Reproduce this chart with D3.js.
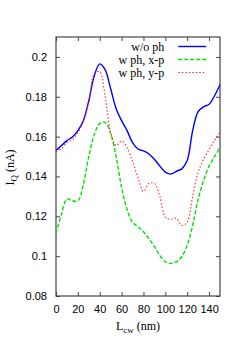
<!DOCTYPE html>
<html>
<head>
<meta charset="utf-8">
<script src="https://cdn.jsdelivr.net/npm/d3@7"></script>
<style>
  html, body { margin: 0; padding: 0; background: #fff; }
  svg { display: block; }
  .tick text { font-family: "Liberation Sans", Arial, sans-serif; font-size: 11px; fill: #000; }
  .lbl { font-family: "Liberation Serif", "Times New Roman", serif; font-size: 12px; fill: #000; }
</style>
</head>
<body>
<div class="svg-container"></div>
<script>
// data (L_cw in nm, I_Q in nA)
const xs = [0, 5, 10, 15, 20, 25, 30, 35, 40, 45, 50, 55, 60, 65, 70, 75,
            80, 85, 90, 95, 100, 105, 110, 115, 120, 125, 130, 135, 140, 145, 150];
const noPh = [0.153, 0.1555, 0.158, 0.1598, 0.163, 0.168, 0.178, 0.1905, 0.1965, 0.1935, 0.184,
              0.174, 0.168, 0.163, 0.157, 0.1538, 0.1528, 0.1513, 0.1486, 0.1452, 0.1422,
              0.1412, 0.1426, 0.1438, 0.148, 0.163, 0.1725, 0.175, 0.1762, 0.1805, 0.186];
const phX = [0.1115, 0.121, 0.1287, 0.1278, 0.1278, 0.136, 0.150, 0.161, 0.1665, 0.1672, 0.1615,
             0.150, 0.1345, 0.1235, 0.117, 0.1148, 0.1122, 0.1088, 0.1048, 0.1003, 0.0972,
             0.0964, 0.0971, 0.0997, 0.1055, 0.1155, 0.1285, 0.138, 0.1452, 0.150, 0.1545];
const phY = [0.1525, 0.154, 0.157, 0.1585, 0.162, 0.1675, 0.177, 0.1915, 0.1925, 0.180, 0.162,
             0.1555, 0.1578, 0.1545, 0.1475, 0.1395, 0.1325, 0.1365, 0.1365, 0.130, 0.1195,
             0.1185, 0.119, 0.1155, 0.117, 0.130, 0.142, 0.1487, 0.1535, 0.158, 0.1625];
const xTicks = [0, 20, 40, 60, 80, 100, 120, 140];
const yTicks = [0.08, 0.1, 0.12, 0.14, 0.16, 0.18, 0.2];

const series = [
    {name: 'w/o ph', values: noPh, color: '#0000ff', dash: null, w: 1.4},
    {name: 'w ph, x-p', values: phX, color: '#00e000', dash: '4,2', w: 1.4},
    {name: 'w ph, y-p', values: phY, color: '#ff2828', dash: '1.5,2', w: 1.1}
];

var W = 249, H = 349,
    margin = {top: 37, right: 29, bottom: 53, left: 56},
    width = W - margin.left - margin.right,
    height = H - margin.top - margin.bottom;

var svg = d3.select('.svg-container').append('svg')
    .attr('width', W).attr('height', H);

var xScale = d3.scaleLinear().domain([0, 150]).range([0, width]),
    yScale = d3.scaleLinear().domain([0.08, 0.21]).range([height, 0]);

var g = svg.append('g')
    .attr('transform', 'translate(' + margin.left + ',' + margin.top + ')');

var fmt = d3.format('~g');
// inward ticks on all sides
g.append('g').attr('transform', 'translate(0,' + height + ')')
    .call(d3.axisBottom(xScale).tickValues(xTicks).tickSizeInner(-4).tickSizeOuter(0).tickPadding(9).tickFormat(fmt));
g.append('g')
    .call(d3.axisLeft(yScale).tickValues(yTicks).tickSizeInner(-4).tickSizeOuter(0).tickPadding(9).tickFormat(fmt));
g.append('g')
    .call(d3.axisTop(xScale).tickValues(xTicks).tickSizeInner(-4).tickSizeOuter(0).tickFormat(''));
g.append('g').attr('transform', 'translate(' + width + ',0)')
    .call(d3.axisRight(yScale).tickValues(yTicks).tickSizeInner(-4).tickSizeOuter(0).tickFormat(''));
g.selectAll('.domain').remove();
g.selectAll('.tick line').attr('stroke', '#444');

g.append('rect')
    .attr('width', width).attr('height', height)
    .attr('fill', 'none').attr('stroke', '#444').attr('stroke-width', 1.2);

var line = d3.line().curve(d3.curveCatmullRom.alpha(0.5));

series.forEach(function (s) {
    g.append('path')
        .attr('d', line(xs.map(function (x, i) { return [xScale(x), yScale(s.values[i])]; })))
        .attr('fill', 'none')
        .attr('stroke', s.color)
        .attr('stroke-width', s.w)
        .attr('stroke-dasharray', s.dash);
});

// legend
var leg = g.append('g').attr('transform', 'translate(' + (xScale(99) ) + ',9.5)');
series.forEach(function (s, i) {
    var row = leg.append('g').attr('transform', 'translate(0,' + (i * 13) + ')');
    row.append('text').attr('class', 'lbl')
        .attr('x', 0).attr('y', 4).attr('text-anchor', 'end').text(s.name);
    row.append('line')
        .attr('x1', 14).attr('x2', 42).attr('y1', 0).attr('y2', 0)
        .attr('stroke', s.color).attr('stroke-width', s.w)
        .attr('stroke-dasharray', s.dash);
});

// axis titles
var xt = svg.append('text').attr('class', 'lbl')
    .attr('x', margin.left + width / 2).attr('y', 330).attr('text-anchor', 'middle');
xt.append('tspan').text('L');
xt.append('tspan').attr('dy', 3).style('font-size', '9px').text('cw');
xt.append('tspan').attr('dy', -3).text(' (nm)');

var yt = svg.append('text').attr('class', 'lbl')
    .attr('transform', 'translate(14,' + (margin.top + height / 2 + 1) + ') rotate(-90)')
    .attr('text-anchor', 'middle');
yt.append('tspan').text('I');
yt.append('tspan').attr('dy', 3).style('font-size', '9px').text('Q');
yt.append('tspan').attr('dy', -3).text(' (nA)');
</script>
</body>
</html>
